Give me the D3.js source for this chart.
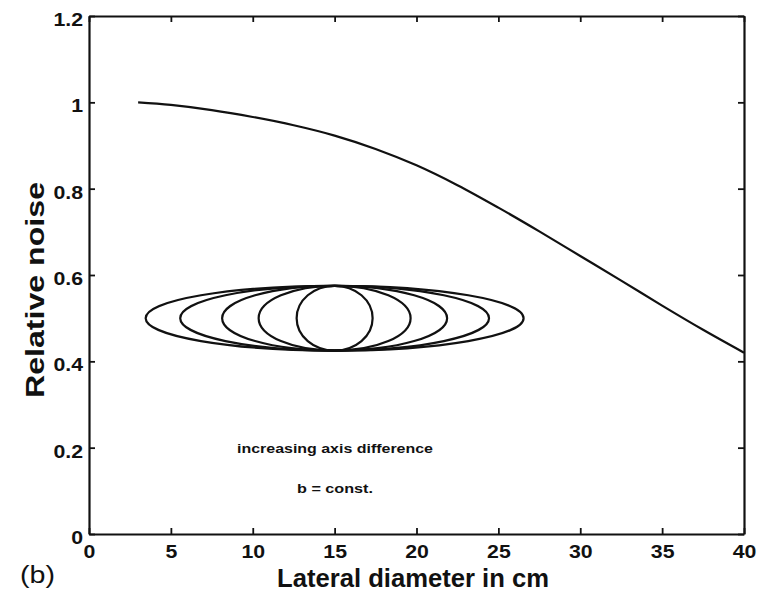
<!DOCTYPE html>
<html>
<head>
<meta charset="utf-8">
<script src="https://cdn.jsdelivr.net/npm/d3@7"></script>
<style>
  body { margin: 0; background: #fff; }
  svg { display: block; }
  text { font-family: "Liberation Sans", Arial, Helvetica, sans-serif; fill: #111; }
</style>
</head>
<body>
<svg id="chart" width="764" height="594"></svg>
<script>
// Relative noise versus lateral diameter
const diameterCm = [3, 5, 7.5, 10, 12.5, 15, 17.5, 20, 22.5, 25, 27.5, 30, 32.5, 35, 37.5, 40];
const relativeNoise = [1.0, 0.994, 0.982, 0.966, 0.947, 0.923, 0.892, 0.854, 0.808, 0.756, 0.701, 0.644, 0.587, 0.529, 0.473, 0.42];

// Axis ticks
const xTickValues = [0, 5, 10, 15, 20, 25, 30, 35, 40];
const xTickLabels = ["0", "5", "10", "15", "20", "25", "30", "35", "40"];
const yTickValues = [0, 0.2, 0.4, 0.6, 0.8, 1.0, 1.2];
const yTickLabels = ["0", "0.2", "0.4", "0.6", "0.8", "1", "1.2"];

// Inset sketch: ellipses of growing lateral half-axis, same vertical half-axis
const ellipseHalfWidths = [2.32, 4.64, 6.87, 9.43, 11.54];   // cm
const ellipseHalfHeight = 0.075;                             // noise units
const ellipseCenter = [15, 0.5];

const annotationLines = ["increasing axis difference", "b = const."];
const xTitle = "Lateral diameter in cm";
const yTitle = "Relative noise";
const panelTag = "(b)";

const svg = d3.select("#chart");
svg.append("rect").attr("width", 764).attr("height", 594).attr("fill", "#fff");

const x = d3.scaleLinear().domain([0, 40]).range([89, 744]);
const y = d3.scaleLinear().domain([0, 1.2]).range([534, 16]);

// widen glyphs a little (the typeface in the figure runs wide)
function stretch(sel, factor) {
  sel.each(function () {
    const w = this.getComputedTextLength();
    d3.select(this).attr("textLength", w * factor).attr("lengthAdjust", "spacingAndGlyphs");
  });
}

const tickFont = "bold 19px 'Liberation Sans', Arial, sans-serif";

// bottom axis with labels
const gx = svg.append("g").attr("transform", `translate(0,${y(0)})`)
  .call(d3.axisBottom(x).tickValues(xTickValues).tickFormat((d, i) => xTickLabels[i])
    .tickSizeInner(-6).tickSizeOuter(0).tickPadding(11));
// left axis with labels
const gy = svg.append("g").attr("transform", `translate(${x(0)},0)`)
  .call(d3.axisLeft(y).tickValues(yTickValues).tickFormat((d, i) => yTickLabels[i])
    .tickSizeInner(-6).tickSizeOuter(0).tickPadding(6));
// top and right box edges with inward ticks
const gt = svg.append("g").attr("transform", `translate(0,${y(1.2)})`)
  .call(d3.axisTop(x).tickValues(xTickValues).tickFormat("").tickSizeInner(-6).tickSizeOuter(0));
const gr = svg.append("g").attr("transform", `translate(${x(40)},0)`)
  .call(d3.axisRight(y).tickValues(yTickValues).tickFormat("").tickSizeInner(-6).tickSizeOuter(0));

[gx, gy, gt, gr].forEach(g => {
  g.select(".domain").attr("stroke", "#111").attr("stroke-width", 2.2);
  g.selectAll(".tick line").attr("stroke", "#111").attr("stroke-width", 1.8);
  g.selectAll(".tick text").style("font", tickFont).attr("fill", "#111");
});
gy.selectAll(".tick text").attr("dy", "0.5em");
stretch(gx.selectAll(".tick text"), 1.12);
stretch(gy.selectAll(".tick text"), 1.12);

// noise curve
const line = d3.line().x((d, i) => x(diameterCm[i])).y(d => y(d)).curve(d3.curveCatmullRom.alpha(0.5));
svg.append("path").datum(relativeNoise)
  .attr("d", line).attr("fill", "none").attr("stroke", "#111").attr("stroke-width", 2.2);

// ellipse sketch
svg.append("g").selectAll("ellipse").data(ellipseHalfWidths).join("ellipse")
  .attr("cx", x(ellipseCenter[0]))
  .attr("cy", y(ellipseCenter[1]))
  .attr("rx", a => x(ellipseCenter[0] + a) - x(ellipseCenter[0]))
  .attr("ry", y(ellipseCenter[1] - ellipseHalfHeight) - y(ellipseCenter[1]))
  .attr("fill", "none").attr("stroke", "#111").attr("stroke-width", 2.2);

// annotation
const ann = svg.append("g").selectAll("text").data(annotationLines).join("text")
  .attr("x", 335).attr("y", (d, i) => 453 + i * 40)
  .attr("text-anchor", "middle")
  .style("font-size", "13px").style("font-weight", "bold")
  .text(d => d);
ann.filter((d, i) => i === 0).attr("textLength", 196).attr("lengthAdjust", "spacingAndGlyphs");
ann.filter((d, i) => i === 1).attr("textLength", 76).attr("lengthAdjust", "spacingAndGlyphs");

// axis titles
svg.append("text").attr("x", 413).attr("y", 587).attr("text-anchor", "middle")
  .style("font-size", "25px").style("font-weight", "bold")
  .attr("textLength", 272).attr("lengthAdjust", "spacingAndGlyphs")
  .text(xTitle);
svg.append("text").attr("transform", "translate(44,290) rotate(-90)").attr("text-anchor", "middle")
  .style("font-size", "26px").style("font-weight", "bold")
  .attr("textLength", 216).attr("lengthAdjust", "spacingAndGlyphs")
  .text(yTitle);

// panel tag
svg.append("text").attr("x", 20).attr("y", 583)
  .style("font-size", "23px")
  .attr("textLength", 35).attr("lengthAdjust", "spacingAndGlyphs")
  .text(panelTag);
</script>
</body>
</html>
